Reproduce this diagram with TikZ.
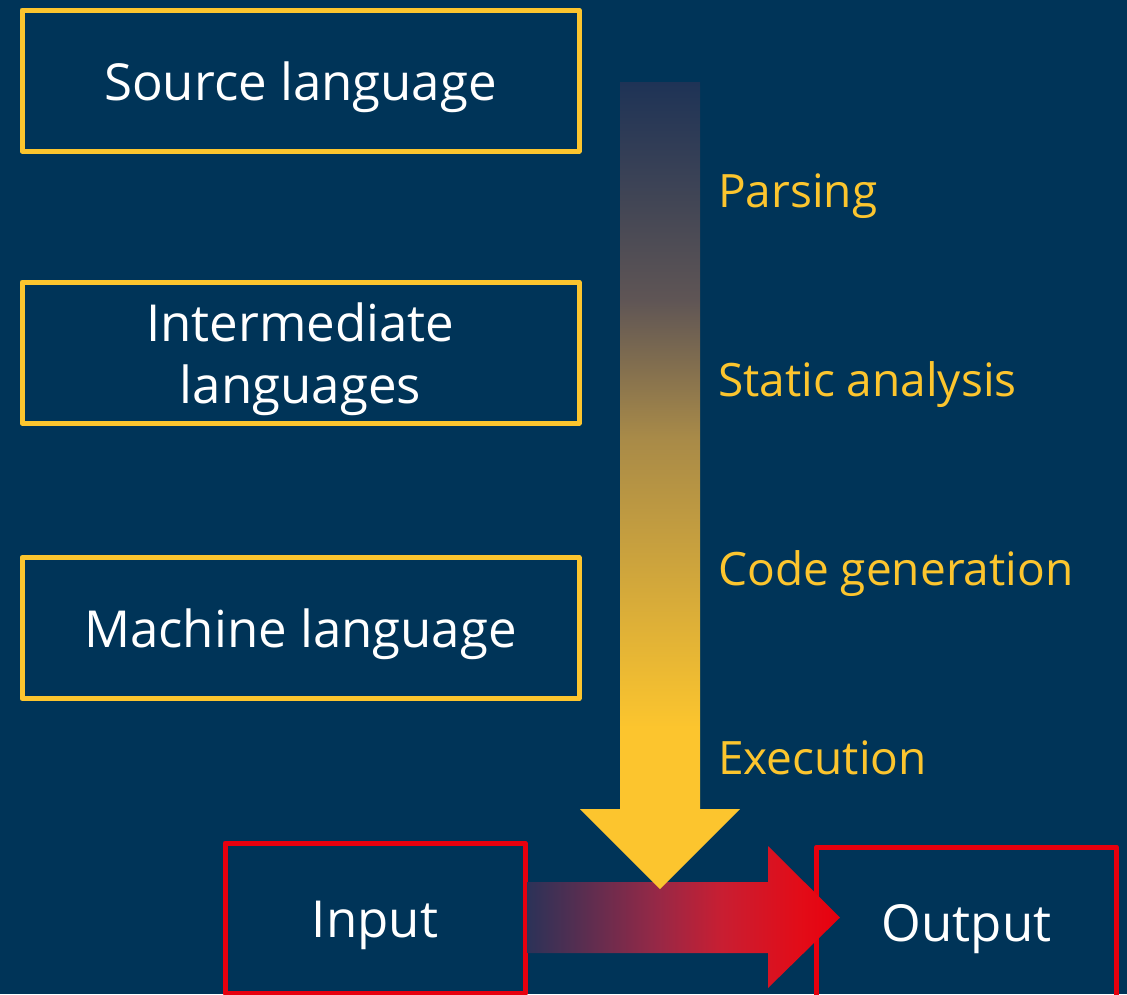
\documentclass[tikz,border=0pt]{standalone}
\usepackage{fontspec}
\setmainfont{Open Sans}
\usetikzlibrary{calc}
\definecolor{navy}{RGB}{0,52,88}
\definecolor{gold}{RGB}{252,197,46}
\definecolor{signal}{RGB}{232,0,14}
% stops of the compilation-flow gradient (bottom to top)
\definecolor{dusk}{RGB}{30,51,86}
\definecolor{ashen}{RGB}{95,85,85}
\definecolor{ochre}{RGB}{168,138,72}
% stops of the input-output gradient (left to right)
\definecolor{plum}{RGB}{44,50,88}
\definecolor{wine}{RGB}{152,40,70}
\definecolor{crimson}{RGB}{200,30,50}
\definecolor{scarlet}{RGB}{226,12,24}
\pgfdeclareverticalshading{flowshade}{100bp}{color(0bp)=(gold); color(35bp)=(gold);
  color(53bp)=(ochre); color(61.5bp)=(ashen); color(75bp)=(dusk); color(100bp)=(dusk)}
\pgfdeclarehorizontalshading{feedshade}{100bp}{color(0bp)=(plum); color(25bp)=(plum);
  color(46bp)=(wine); color(56bp)=(crimson); color(68.5bp)=(scarlet);
  color(75bp)=(signal); color(100bp)=(signal)}
\begin{document}
\begin{tikzpicture}[x=1pt,y=-1pt,
  stage/.style={draw=gold, line width=5pt, line join=round, inner sep=0pt,
    minimum width=557pt, minimum height=141pt, text=white, align=center,
    font=\fontsize{51}{62}\selectfont, text height=39pt, text depth=0pt},
  io/.style={stage, draw=signal, minimum width=300pt, minimum height=150pt},
  phase/.style={anchor=base west, text=gold, inner sep=0pt,
    font=\fontsize{46}{54}\selectfont},
  flow/.style={shading=flowshade},
  feed/.style={shading=feedshade}]
% page and background
\fill[navy] (0,0) rectangle (1127,994);
\clip (0,0) rectangle (1127,994);

% language levels
\node[stage] (src) at (300.5,80.5) {Source language};
\node[stage, text height=101pt] (mid) at (300.5,352.5) {Intermediate\\languages};
\node[stage] (mach) at (300.5,628) {Machine language};

% run-time boxes
\node[io] (in) at (375,918) {Input};
\node[io] (out) at (966.5,922) {Output};

% input-to-output block arrow
\shade[feed, shift={(in.east)}]
  (0,-36) -- (240.5,-36) -- (240.5,-72) -- (312.5,-0.5) -- (240.5,70)
  -- (240.5,35) -- (0,35) -- cycle;

% compilation flow block arrow
\coordinate (flowtop) at (660,82);
\shade[flow, shift={(flowtop)}]
  (-40,0) -- (40,0) -- (40,727) -- (80,727) -- (0,807) -- (-80,727)
  -- (-40,727) -- cycle;

% phase labels
\node[phase] (parse) at (718,207) {Parsing};
\node[phase] (stat) at (718,396) {Static analysis};
\node[phase] (gen) at (718,585) {Code generation};
\node[phase] (exec) at (718,774) {Execution};
\end{tikzpicture}
\end{document}
